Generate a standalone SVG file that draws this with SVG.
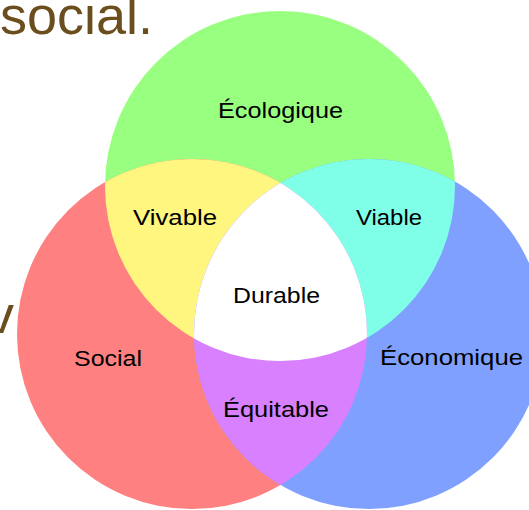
<svg xmlns="http://www.w3.org/2000/svg" width="529" height="510" viewBox="0 0 529 510">
  <style>
    .lbl { font-family: "Liberation Sans", Arial, sans-serif; font-size: 22px; fill: #000; text-anchor: start; }
    .big { font-family: "Liberation Sans", Arial, sans-serif; font-size: 54px; fill: #6a4e1e; }
  </style>
  <defs>
    <circle id="cG" cx="280" cy="186" r="175"/>
    <circle id="cR" cx="192" cy="334" r="175"/>
    <circle id="cB" cx="369" cy="334" r="175"/>
    <clipPath id="clipG"><use href="#cG"/></clipPath>
    <clipPath id="clipR"><use href="#cR"/></clipPath>
    <clipPath id="clipB"><use href="#cB"/></clipPath>
  </defs>
  <rect width="529" height="510" fill="#ffffff"/>

  <text class="big" x="0" y="34">social.</text>
  <text class="big" x="-13" y="333">v</text>

  <g id="ecologique">
    <use href="#cG" fill="#99ff80"/>
  </g>
  <g id="social">
    <use href="#cR" fill="#ff8080"/>
  </g>
  <g id="economique">
    <use href="#cB" fill="#80a0ff"/>
  </g>
  <g id="vivable">
    <use href="#cR" fill="#fff680" clip-path="url(#clipG)"/>
  </g>
  <g id="viable">
    <use href="#cB" fill="#80ffe8" clip-path="url(#clipG)"/>
  </g>
  <g id="equitable">
    <use href="#cR" fill="#d980ff" clip-path="url(#clipB)"/>
  </g>
  <g id="durable">
    <g clip-path="url(#clipB)">
      <use href="#cR" fill="#ffffff" clip-path="url(#clipG)"/>
    </g>
  </g>

  <g id="labels">
    <text class="lbl" x="218" y="118" textLength="125" lengthAdjust="spacingAndGlyphs">Écologique</text>
    <text class="lbl" x="133" y="225" textLength="84" lengthAdjust="spacingAndGlyphs">Vivable</text>
    <text class="lbl" x="356" y="225" textLength="66" lengthAdjust="spacingAndGlyphs">Viable</text>
    <text class="lbl" x="233" y="303" textLength="87" lengthAdjust="spacingAndGlyphs">Durable</text>
    <text class="lbl" x="74" y="366" textLength="68" lengthAdjust="spacingAndGlyphs">Social</text>
    <text class="lbl" x="380" y="365" textLength="143" lengthAdjust="spacingAndGlyphs">Économique</text>
    <text class="lbl" x="223" y="417" textLength="106" lengthAdjust="spacingAndGlyphs">Équitable</text>
  </g>
</svg>
